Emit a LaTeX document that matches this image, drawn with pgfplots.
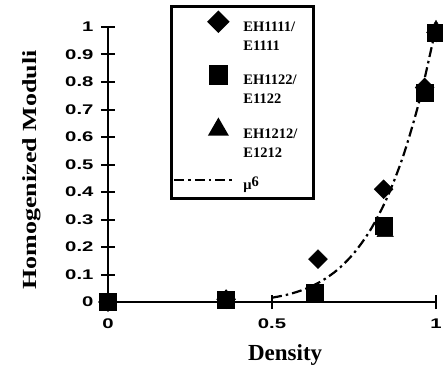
\documentclass[border=0pt]{standalone}
\usepackage{pgfplots}
\pgfplotsset{compat=1.18}
\usepackage{fontspec}
\setmainfont{Liberation Serif}
\setsansfont{Liberation Sans}
\protected\def\wl#1{\scalebox{1.45}[1]{\sffamily\bfseries\fontsize{14}{16}\selectfont #1}}
\protected\def\legtwo#1#2{\fontsize{14.5}{19}\selectfont\bfseries\begin{tabular}[t]{@{}l@{\hspace{12pt}}}#1\\#2\end{tabular}}
\pgfplotsset{
  markleg/.style={legend image code/.code={\path[draw=none,fill=none] (0pt,0pt) -- (60pt,0pt); \draw[##1] plot coordinates {(44pt,3.5pt)};}},
  lineleg/.style={legend image code/.code={\draw[##1] (0pt,3.5pt) -- (60pt,3.5pt);}},
}
\begin{document}
\begin{tikzpicture}
\useasboundingbox (-108pt,-76pt) rectangle (335pt,302pt);
\begin{axis}[
  at={(0,0)}, anchor=south west,
  scale only axis, width=328pt, height=275pt,
  xmin=0, xmax=1, ymin=0, ymax=1,
  axis lines=left,
  axis line style={-, line width=2.4pt},
  clip=false,
  xtick={0,0.5,1}, xticklabels={\wl{0},\wl{0.5},\wl{1}},
  ytick={0,0.1,0.2,0.3,0.4,0.5,0.6,0.7,0.8,0.9,1},
  yticklabels={\wl{0},\wl{0.1},\wl{0.2},\wl{0.3},\wl{0.4},\wl{0.5},\wl{0.6},\wl{0.7},\wl{0.8},\wl{0.9},\wl{1}},
  tick align=center, major tick length=14pt,
  tick style={line width=2pt, black},
  /pgf/number format/assume math mode=true,
  tick label style={font=\sffamily\bfseries\fontsize{14}{16}\selectfont},
  xticklabel style={yshift=-6pt},
  yticklabel style={xshift=-4pt},
  xlabel={\fontsize{23}{26}\selectfont\bfseries Density},
  ylabel={\scalebox{1.3}[1]{\fontsize{20}{24}\selectfont\bfseries Homogenized Moduli}},
  xlabel style={at={(axis description cs:0.54,0)}, anchor=center, yshift=-53pt},
  ylabel style={at={(axis description cs:0,0.48)}, anchor=center, yshift=76pt},
  legend style={at={(axis description cs:0.189,1.08)}, anchor=north west,
    draw=black, line width=2.6pt, inner xsep=2pt, inner ysep=6pt,
    row sep=32pt, column sep=6pt},
  legend cell align=left,
]
\addplot[only marks, mark=square*, mark options={rotate=45}, mark size=6.7pt, black, markleg]
  coordinates {(0,0) (0.36,0.01) (0.64,0.156) (0.84,0.41) (0.965,0.78) (1,0.98)};
\addlegendentry{\legtwo{EH1111/}{E1111}}
\addplot[only marks, mark=square*, mark size=8.5pt, black, markleg]
  coordinates {(0,0) (0.36,0.01) (0.63,0.033) (0.84,0.276) (0.965,0.76) (1,0.98)};
\addlegendentry{\legtwo{EH1122/}{E1122}}
\addplot[only marks, mark=triangle*, mark size=9.5pt, black, markleg]
  coordinates {(0,0) (0.36,0.01) (0.63,0.03) (0.845,0.255) (0.965,0.78) (1,0.99)};
\addlegendentry{\legtwo{EH1212/}{E1212}}
\addplot[black, line width=2.2pt, dash pattern=on 10pt off 4pt on 2.5pt off 4pt, smooth, lineleg]
  coordinates {(0.5,0.0156) (0.55,0.0277) (0.6,0.0467) (0.65,0.0754) (0.7,0.1176) (0.75,0.178) (0.8,0.262) (0.85,0.377) (0.9,0.531) (0.95,0.735) (1,1)};
\addlegendentry{\fontsize{14.5}{19}\selectfont\bfseries μ\raisebox{3pt}{6}}
\end{axis}
\end{tikzpicture}
\end{document}
